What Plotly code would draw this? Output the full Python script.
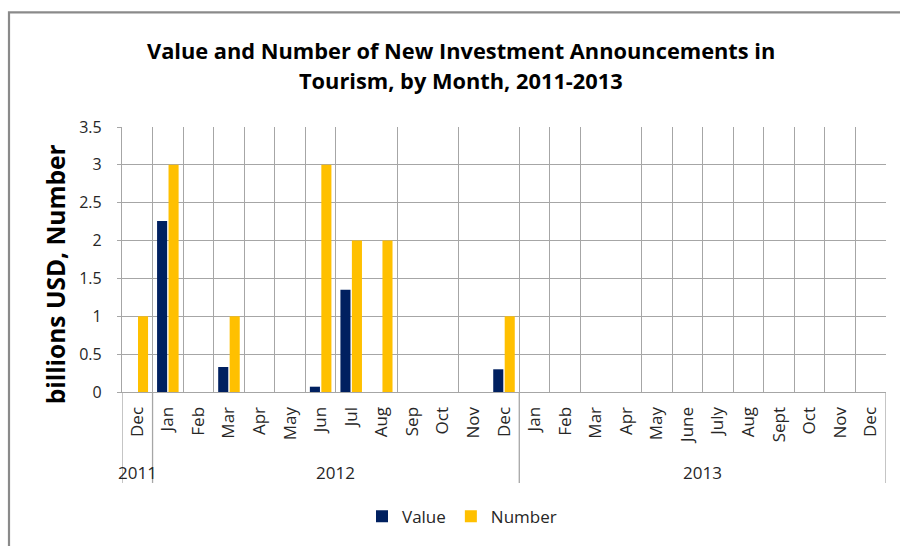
import plotly.graph_objects as go

# Month labels grouped by year
year_groups = ["2011", "2012", "2013"]
months_by_year = [
    ["Dec"],
    ["Jan", "Feb", "Mar", "Apr", "May", "Jun", "Jul", "Aug", "Sep", "Oct", "Nov", "Dec"],
    ["Jan", "Feb", "Mar", "Apr", "May", "June", "July", "Aug", "Sept", "Oct", "Nov", "Dec"],
]

# Value (billions USD) and number of announcements per month
value = [None, 2.26, None, 0.33, None, None, 0.07, 1.35, None, None, None, None, 0.30,
         None, None, None, None, None, None, None, None, None, None, None, None]
number = [1, 3, None, 1, None, None, 3, 2, 2, None, None, None, 1,
          None, None, None, None, None, None, None, None, None, None, None, None]

y_ticks = [0, 0.5, 1, 1.5, 2, 2.5, 3, 3.5]

title_lines = ["Value and Number of New Investment Announcements in",
               "Tourism, by Month, 2011-2013"]

NAVY = "#002060"
GOLD = "#FFC000"
GRID = "#a6a6a6"
TEXT = "#262626"
FONT = "Open Sans"

month_labels = [m for grp in months_by_year for m in grp]
xs = list(range(len(month_labels)))

# Category boundaries that carry a vertical gridline
boundaries = [i + 0.5 for i in range(len(month_labels))]
skip = {7.5, 9.5, 11.5, 15.5}
grid_bounds = [b for b in boundaries if b not in skip]

# Group boundaries (year separators) and group centres
group_edges = [-0.5]
group_centres = []
start = 0
for grp in months_by_year:
    end = start + len(grp)
    group_edges.append(end - 0.5)
    group_centres.append((start + end - 1) / 2)
    start = end

fig = go.Figure()
fig.add_trace(go.Bar(x=xs, y=value, name="Value", marker=dict(color=NAVY, line=dict(width=0))))
fig.add_trace(go.Bar(x=xs, y=number, name="Number", marker=dict(color=GOLD, line=dict(width=0))))

# Plot area in pixels
W, H = 900, 546
L, R, T, B = 122, 14, 127, 151
plot_h = H - T - B
plot_w = W - L - R


def py(pix):
    """Convert a pixel row to paper y."""
    return (H - B - pix) / plot_h


def px(pix):
    """Convert a pixel column to paper x."""
    return (pix - L) / plot_w


shapes = []
for e in group_edges:
    shapes.append(dict(type="line", xref="x", yref="paper", x0=e, x1=e,
                       y0=0, y1=py(487), line=dict(color=GRID, width=1.3)))
# chart border
shapes.append(dict(type="rect", xref="paper", yref="paper",
                   x0=px(9), x1=px(910), y0=py(11), y1=py(570),
                   line=dict(color="#8a8a8a", width=2.2), layer="above"))

annotations = []
for i, line in enumerate(title_lines):
    annotations.append(dict(x=px(461), y=py(50 + 30 * i), xref="paper", yref="paper",
                            text=f"<b>{line}</b>", showarrow=False,
                            font=dict(family=FONT, size=21.8, color="#000000"),
                            xanchor="center", yanchor="middle"))
for yr, c in zip(year_groups, group_centres):
    annotations.append(dict(x=c, y=py(476), xref="x", yref="paper", text=yr,
                            showarrow=False, font=dict(family=FONT, size=17, color=TEXT),
                            xanchor="center", yanchor="middle"))
annotations.append(dict(x=px(55), y=py(276), xref="paper", yref="paper",
                        text="<b>billions USD, Number</b>", textangle=-90, showarrow=False,
                        font=dict(family=FONT, size=24.5, color="#000000"),
                        xanchor="center", yanchor="middle"))

fig.update_layout(
    width=W, height=H,
    margin=dict(l=L, r=R, t=T, b=B),
    paper_bgcolor="white", plot_bgcolor="white",
    barmode="group", bargap=0.25, bargroupgap=0.12,
    legend=dict(orientation="h", x=px(462), y=py(521), xanchor="center", yanchor="middle",
                font=dict(family=FONT, size=17, color=TEXT), itemwidth=30,
                bgcolor="rgba(0,0,0,0)"),
    shapes=shapes,
    annotations=annotations,
    showlegend=True,
)

fig.update_xaxes(
    range=[-0.5, len(month_labels) - 0.5],
    tickmode="array", tickvals=xs, ticktext=month_labels, tickangle=-90,
    tickfont=dict(family=FONT, size=17, color=TEXT),
    showgrid=False, ticks="", ticklabelstandoff=7,
    showline=True, linecolor=GRID, linewidth=1.3,
    minor=dict(tickmode="array", tickvals=grid_bounds, showgrid=True,
               gridcolor=GRID, gridwidth=1.3, ticks=""),
    zeroline=False, fixedrange=True,
)
fig.update_yaxes(
    range=[0, 3.5],
    tickmode="array", tickvals=y_ticks, ticktext=[f"{v:g}" for v in y_ticks],
    tickfont=dict(family=FONT, size=16, color=TEXT),
    showgrid=False, ticks="outside", ticklen=4, tickcolor=GRID, ticklabelstandoff=12,
    showline=True, linecolor=GRID, linewidth=1.3,
    minor=dict(tickmode="array", tickvals=y_ticks[1:-1], showgrid=True,
               gridcolor=GRID, gridwidth=1.3, ticks=""),
    zeroline=False, fixedrange=True,
)

fig.write_html("out.html")
